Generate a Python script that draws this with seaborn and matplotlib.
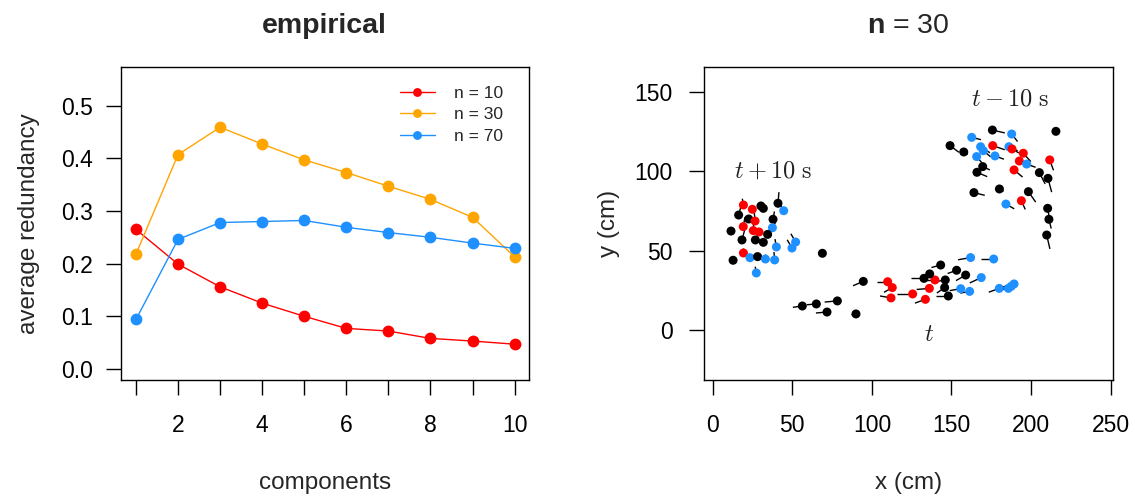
import numpy as np
import pandas as pd
import matplotlib
matplotlib.use('Agg')
import matplotlib.pyplot as plt
import seaborn as sns
from matplotlib.collections import LineCollection

# left panel: average redundancy per number of components
components = list(range(1, 11))
red_n10 = [0.265, 0.199, 0.156, 0.125, 0.100, 0.077, 0.072, 0.058, 0.053, 0.047]
red_n30 = [0.218, 0.407, 0.459, 0.427, 0.397, 0.373, 0.347, 0.322, 0.288, 0.213]
red_n70 = [0.094, 0.246, 0.278, 0.280, 0.282, 0.269, 0.259, 0.250, 0.239, 0.229]
group_labels = ['n = 10', 'n = 30', 'n = 70']

# right panel: fish positions (cm), heading (deg) and tail length (cm)
# snapshot at t + 10 s
plus_x = [19.3, 24.9, 30.3, 31.8, 41.0, 44.6, 16.3, 22.6, 26.6, 37.9, 11.5, 19.2, 25.5, 29.1, 37.5,
          34.5, 18.4, 26.8, 31.8, 40.0, 49.8, 52.1, 68.9, 19.3, 12.8, 23.4, 28.2, 33.1, 38.9, 27.4]
plus_y = [78.7, 76.0, 78.1, 76.6, 79.8, 75.1, 72.4, 69.9, 68.6, 69.7, 62.3, 65.1, 62.6, 61.7, 64.4,
          60.2, 56.7, 56.7, 55.2, 52.3, 51.6, 55.4, 48.3, 48.5, 43.9, 45.5, 46.2, 44.7, 44.1, 35.9]
plus_head = [100, 95, 90, 90, 85, 120, 75, 90, 95, 80, 90, 80, 90, 90, 60,
             60, 75, 90, 90, 100, 120, 120, 90, 90, 90, 30, 160, 90, 95, 100]
plus_len = [4, 0, 0, 0, 7, 5, 6, 0, 6, 5, 0, 6, 6, 0, 4,
            4, 7, 0, 0, 5, 6, 6, 0, 3, 0, 5, 0, 3, 5, 4]
plus_col = ['red', 'red', 'black', 'black', 'black', 'blue', 'black', 'black', 'red', 'black',
            'black', 'red', 'red', 'red', 'blue', 'black', 'black', 'black', 'black', 'blue',
            'blue', 'blue', 'black', 'red', 'black', 'blue', 'black', 'blue', 'blue', 'blue']

# snapshot at t
now_x = [94.6, 56.3, 65.1, 78.3, 71.8, 90.0, 109.9, 112.8, 112.0, 125.6, 133.6, 136.1, 139.6, 132.7, 136.3,
         143.2, 146.1, 145.7, 148.0, 153.2, 158.9, 162.0, 176.5, 168.7, 155.8, 161.4, 180.0, 185.7, 189.3, 187.5]
now_y = [30.6, 15.1, 16.4, 18.3, 11.3, 10.1, 30.4, 26.7, 20.2, 22.7, 19.3, 26.2, 31.5, 32.5, 35.3,
         40.9, 31.5, 26.7, 21.4, 37.6, 34.6, 45.6, 44.7, 33.0, 26.0, 24.3, 26.2, 26.2, 29.0, 27.5]
now_head = [203, 188, 185, 185, 185, 180, 180, 210, 170, 180, 200, 185, 180, 180, 190,
            195, 190, 215, 180, 200, 210, 190, 180, 205, 190, 190, 200, 190, 195, 195]
now_len = [7, 6, 6, 8, 7, 3, 7, 6, 7, 10, 7, 8, 6, 8, 5,
           6, 6, 6, 8, 6, 7, 8, 8, 8, 7, 6, 7, 6, 8, 6]
now_col = ['black'] * 6 + ['red'] * 7 + ['black'] * 8 + ['blue'] * 9

# snapshot at t - 10 s
minus_x = [175.7, 187.8, 215.6, 162.7, 149.1, 157.7, 168.3, 175.9, 186.1, 188.0, 170.0, 165.8, 177.3, 195.1, 192.6,
           197.2, 211.7, 169.6, 166.0, 189.3, 205.2, 210.6, 164.1, 180.1, 198.3, 184.2, 193.9, 210.4, 211.2, 209.8]
minus_y = [125.9, 123.4, 125.1, 121.3, 116.1, 112.1, 115.4, 116.1, 115.4, 114.0, 112.9, 109.2, 109.6, 111.3, 106.4,
           104.5, 107.1, 102.9, 99.3, 100.8, 99.1, 95.5, 86.5, 88.8, 87.1, 79.3, 81.4, 76.6, 69.7, 59.8]
minus_head = [-13, -52, -60, -14, -37, -30, -33, -19, -25, -30, -40, -50, -20, -48, -21,
              -20, -70, -25, -23, -40, -63, -75, -14, -30, -55, -30, -66, -80, -76, -77]
minus_len = [8, 6, 0, 6, 7, 3, 7, 8, 6, 5, 6, 5, 6, 7, 8,
             6, 7, 5, 7, 7, 8, 9, 7, 3, 8, 6, 6, 5, 6, 9]
minus_col = ['black', 'blue', 'black', 'blue', 'black', 'black', 'blue', 'red', 'blue', 'red',
             'blue', 'blue', 'blue', 'red', 'red', 'blue', 'red', 'black', 'black', 'red',
             'black', 'black', 'black', 'black', 'black', 'blue', 'red', 'black', 'black', 'black']

sns.set_style('ticks')
plt.rcParams['font.family'] = ['Liberation Sans', 'DejaVu Sans']
plt.rcParams['mathtext.fontset'] = 'custom'
plt.rcParams['mathtext.rm'] = 'Liberation Sans'
plt.rcParams['mathtext.bf'] = 'Liberation Sans:bold'
plt.rcParams['axes.edgecolor'] = 'black'
plt.rcParams['axes.linewidth'] = 1.0

fig = plt.figure(figsize=(11.35, 4.97), dpi=100)
ax1 = fig.add_axes([0.1063, 0.2354, 0.3597, 0.6304])
ax2 = fig.add_axes([0.6205, 0.2354, 0.3599, 0.6304])

# ---- left panel
red_df = pd.DataFrame({
    'components': components * 3,
    'redundancy': red_n10 + red_n30 + red_n70,
    'n': [group_labels[0]] * 10 + [group_labels[1]] * 10 + [group_labels[2]] * 10,
})
line_cols = ['#FF0000', '#FFA500', '#1E90FF']
sns.lineplot(data=red_df, x='components', y='redundancy', hue='n', hue_order=group_labels,
             palette=line_cols, marker='o', markersize=8.5, markeredgewidth=0,
             linewidth=1.0, legend=False, ax=ax1)
ax1.legend(ax1.lines[:3], group_labels, loc='upper right', bbox_to_anchor=(0.975, 0.99),
           frameon=False, fontsize=12.5, handlelength=2.0, handletextpad=1.1,
           labelspacing=0.38, markerscale=0.75)
ax1.set_xlim(0.636, 10.34)
ax1.set_ylim(-0.021, 0.574)
ax1.set_xticks(components)
ax1.set_xticklabels([str(c) if c % 2 == 0 else '' for c in components])
ax1.set_yticks([0.0, 0.1, 0.2, 0.3, 0.4, 0.5])
ax1.set_yticklabels(['0.0', '0.1', '0.2', '0.3', '0.4', '0.5'])
ax1.set_xlabel('components', fontsize=17.5)
ax1.set_ylabel('average redundancy', fontsize=17.5)
ax1.xaxis.set_label_coords(0.5, -0.295)
ax1.yaxis.set_label_coords(-0.198, 0.5)
ax1.set_title('empirical', fontsize=20.5, fontweight='bold', pad=24)

# ---- right panel
fish = pd.DataFrame({
    'x': plus_x + now_x + minus_x,
    'y': plus_y + now_y + minus_y,
    'head': plus_head + now_head + minus_head,
    'len': plus_len + now_len + minus_len,
    'col': plus_col + now_col + minus_col,
})
ang = np.deg2rad(fish['head'].to_numpy())
tip_x = fish['x'].to_numpy() + fish['len'].to_numpy() * np.cos(ang)
tip_y = fish['y'].to_numpy() + fish['len'].to_numpy() * np.sin(ang)
segs = [[(x0, y0), (x1, y1)] for x0, y0, x1, y1 in zip(fish['x'], fish['y'], tip_x, tip_y)]
ax2.add_collection(LineCollection(segs, colors='black', linewidths=1.0, zorder=2))
sns.scatterplot(data=fish, x='x', y='y', hue='col',
                palette={'black': 'black', 'red': '#FF0000', 'blue': '#1E90FF'},
                s=42, linewidth=0, legend=False, zorder=3, ax=ax2)
ax2.set_xlim(-5.3, 251.3)
ax2.set_ylim(-31.5, 165.8)
ax2.set_xticks([0, 50, 100, 150, 200, 250])
ax2.set_yticks([0, 50, 100, 150])
ax2.set_xlabel('x (cm)', fontsize=17.5)
ax2.set_ylabel('y (cm)', fontsize=17.5)
ax2.xaxis.set_label_coords(0.5, -0.295)
ax2.yaxis.set_label_coords(-0.206, 0.5)
ax2.set_title(r'$\mathbf{n}$ = 30', fontsize=20.5, pad=24, math_fontfamily='custom')

txt_kw = dict(fontsize=17.5, ha='center', va='center', color='#222222', math_fontfamily='cm')
ax2.text(37.9, 99.7, r'$t + 10\ \mathrm{s}$', **txt_kw)
ax2.text(186.9, 145.3, r'$t - 10\ \mathrm{s}$', **txt_kw)
ax2.text(135.9, -3.1, r'$t$', **txt_kw)

for ax, ypad in ((ax1, 9), (ax2, 12)):
    for side in ['top', 'right', 'left', 'bottom']:
        ax.spines[side].set_visible(True)
        ax.spines[side].set_color('black')
    ax.tick_params(axis='x', direction='out', length=10.8, width=1, labelsize=16.5, pad=14, colors='black')
    ax.tick_params(axis='y', direction='out', length=10.8, width=1, labelsize=16.5, pad=ypad, colors='black')

fig.savefig('out.png', dpi=100)
